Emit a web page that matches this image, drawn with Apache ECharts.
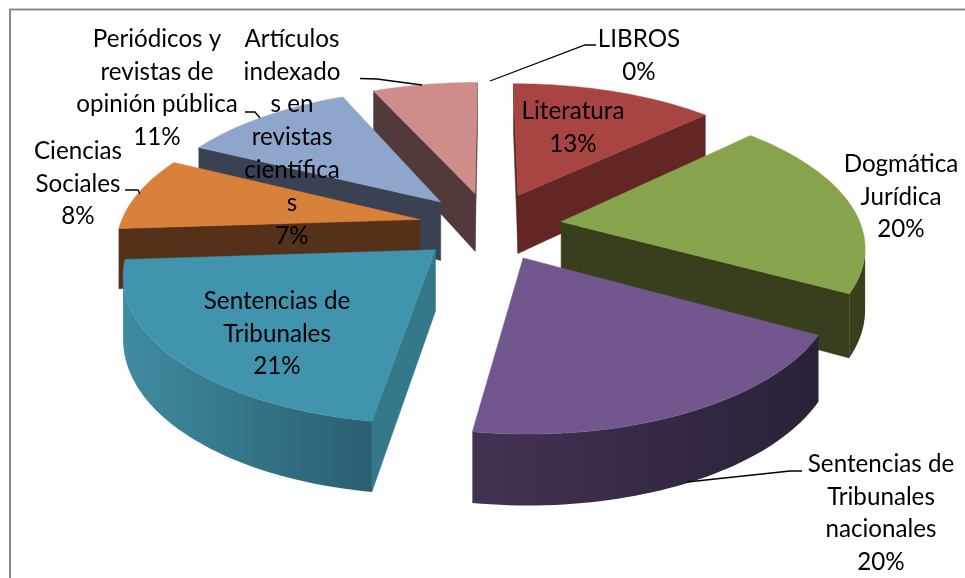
<!DOCTYPE html>
<html><head><meta charset="utf-8">
<style>html,body{margin:0;padding:0;background:#fff}#c{width:965px;height:578px}</style>
<script src="https://cdn.jsdelivr.net/npm/echarts@6/dist/echarts.min.js"></script>
</head><body><div id="c"></div>
<script>
// --- data, clockwise from 12 o'clock (slice sizes estimated; labels show them rounded) ---
const categories = ['LIBROS','Literatura','Dogmática Jurídica','Sentencias de Tribunales nacionales','Sentencias de Tribunales','Ciencias Sociales','Periódicos y revistas de opinión pública','Artículos indexados en revistas científicas'];
const percents = [0,13.2,19.6,19.7,21.49,8.1,11,6.91];
const labelLines = [['LIBROS'],['Literatura'],['Dogmática','Jurídica'],['Sentencias de','Tribunales','nacionales'],['Sentencias de','Tribunales'],['Ciencias','Sociales'],['Periódicos y','revistas de','opinión pública'],['Artículos','indexado','s en','revistas','científica','s']];

// --- styles and layout ---
const topColors  = ['#999999','#A84543','#87A44D','#71578E','#4094AE','#D8813B','#8EA5CC','#CE8C8B'];
const sideColors = ['#555555','#622624','#373F1C','#2D233B','#35788A','#55311A','#3A4152','#533A3A'];
const wallLeft   = ['#555555','#622624','#373F1C','#433353','#3F8BA0','#55311A','#3A4152','#533A3A'];
const wallRight  = ['#555555','#622624','#373F1C','#2A2137','#2A5F70','#55311A','#3A4152','#533A3A'];
const labelCenters = [[639,39],[573,111],[901,164],[881,464],[277,301],[78,151],[157,39],[292,39]];
const leaders = [
  [[490,81],[585,45],[596,45]],
  null,
  null,
  [[687,482],[790,471],[802,471]],
  null,
  [[125,190],[138,190],[140,194]],
  [[245,112],[255,112],[260,118]],
  [[360,78.5],[377,79],[422,85]]
];
const CX=490, CY=226, R=300, EXPLODE=72, K=0.48, P=0.00052, H=60;
const FONT='Lato', FS=24.2, LH=32.8;

function proj(X,Z,h){const s=1+P*Z;return [CX+X*s, CY+Z*K*s+h*s];}
const total=percents.reduce((a,b)=>a+b,0);
const slices=[];let acc=0;
percents.forEach((v,i)=>{const a0=acc/total*2*Math.PI;acc+=v;const a1=acc/total*2*Math.PI;
  const mid=(a0+a1)/2;slices.push({i,a0,a1,ox:EXPLODE*Math.sin(mid),oz:-EXPLODE*Math.cos(mid),depth:-EXPLODE*Math.cos(mid)});});
function area(p){let s=0;for(let i=0;i<p.length;i++){const q=p[(i+1)%p.length];s+=p[i][0]*q[1]-q[0]*p[i][1];}return s;}

function sliceShapes(sl){
  if(sl.a1-sl.a0<1e-6) return [];
  const rim=[];const N=48;
  for(let j=0;j<=N;j++){const a=sl.a0+(sl.a1-sl.a0)*j/N;rim.push([sl.ox+R*Math.sin(a),sl.oz-R*Math.cos(a)]);}
  const apex=[sl.ox,sl.oz];
  const t=p=>proj(p[0],p[1],0), b=p=>proj(p[0],p[1],H);
  const kids=[];
  const poly=(pts,fill)=>kids.push({type:'polygon',shape:{points:pts},style:{fill,stroke:fill,lineWidth:0.5}});
  // radial walls, drawn only when they face the viewer
  [[apex,rim[0]],[rim[N],apex]].forEach(([u,v])=>{
    const q=[t(u),t(v),b(v),b(u)];
    if(area(q)<0) poly(q,sideColors[sl.i]);
  });
  // outer wall, front-facing stretch only
  const tops=[],bots=[];
  for(let j=0;j<N;j++){
    const q=[t(rim[j+1]),t(rim[j]),b(rim[j]),b(rim[j+1])];
    if(area(q)>0){
      if(!tops.length){tops.push(t(rim[j]));bots.push(b(rim[j]));}
      tops.push(t(rim[j+1]));bots.push(b(rim[j+1]));
    }
  }
  if(tops.length){
    const pts=tops.concat(bots.slice().reverse());
    const xs=pts.map(p=>p[0]);const x0=Math.min(...xs),x1=Math.max(...xs);
    kids.push({type:'polygon',shape:{points:pts},style:{
      fill:new echarts.graphic.LinearGradient(x0,0,x1,0,[{offset:0,color:wallLeft[sl.i]},{offset:1,color:wallRight[sl.i]}],true)}});
  }
  poly([t(apex)].concat(rim.map(t)),topColors[sl.i]);
  return kids;
}
const paintOrder=slices.slice().sort((a,b)=>a.depth-b.depth).map(s=>s.i);

const chart=echarts.init(document.getElementById('c'),null,{renderer:'canvas'});
chart.setOption({
  animation:false,
  backgroundColor:'#fff',
  graphic:[{type:'rect',shape:{x:10,y:9.5,width:1000,height:620},style:{fill:'none',stroke:'#8C8C8C',lineWidth:2},z:-1}],
  series:[
    {type:'custom',coordinateSystem:'none',silent:true,z:2,data:paintOrder.map(i=>({value:[i,percents[i]],name:categories[i]})),
     renderItem:(p,api)=>({type:'group',children:sliceShapes(slices[api.value(0)])})},
    {type:'custom',coordinateSystem:'none',silent:true,z:3,data:percents.map((v,i)=>({value:[i,v],name:categories[i]})),
     renderItem:(p,api)=>{const i=api.value(0),kids=[];
       if(leaders[i]) kids.push({type:'polyline',shape:{points:leaders[i]},style:{fill:'none',stroke:'#000',lineWidth:1.3}});
       const lines=labelLines[i].concat([Math.round(api.value(1))+'%']);
       kids.push({type:'text',style:{x:labelCenters[i][0],y:labelCenters[i][1]-LH/2,text:lines.join('\n'),fontFamily:FONT,fontSize:FS,lineHeight:LH,fill:'#000',align:'center',verticalAlign:'top'}});
       return {type:'group',children:kids};}}
  ]
});
</script></body></html>
